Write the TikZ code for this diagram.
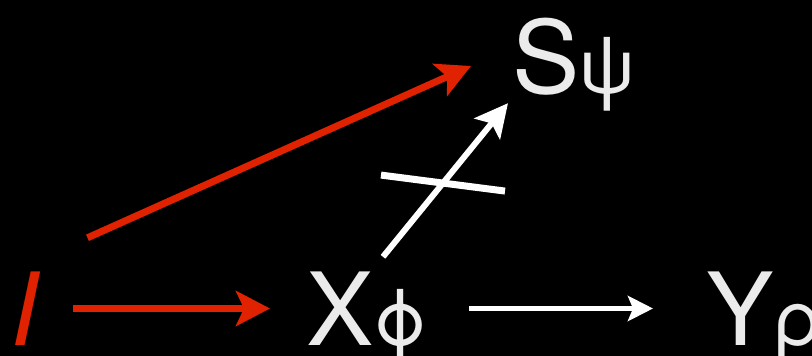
\documentclass[tikz,border=0pt]{standalone}
\usepackage{fontspec}
\setmainfont{TeX Gyre Heros}
\usetikzlibrary{arrows.meta}
\definecolor{arrred}{RGB}{224,34,0}
\definecolor{txtgray}{RGB}{235,235,235}
\newcommand{\bigfs}{\fontsize{101}{101}\selectfont}
\newcommand{\gk}{\fontsize{77}{77}\selectfont}
\tikzset{
  lbl/.style={inner sep=0pt, anchor=base west, text height=73pt, text depth=0pt, font=\bigfs, text=txtgray},
  redarrow/.style={draw=arrred, line width=7pt, -{Stealth[length=34pt, width=35pt, inset=8pt]}},
  whitearrow/.style={draw=white, line width=6pt, -{Stealth[length=33pt, width=33pt, inset=7pt]}},
  thinarrow/.style={draw=white, line width=5pt, -{Stealth[length=25pt, width=25pt, inset=5pt]}},
  crossbar/.style={draw=white, line width=7pt}
}
\begin{document}
\begin{tikzpicture}[x=1pt,y=-1pt]
\fill[black] (0,0) rectangle (812,356);
\useasboundingbox (0,0) rectangle (812,356);
\node[lbl, text=arrred] (I) at (10,345) {\itshape I};
\node[lbl] (X) at (306,345) {X\gk ϕ};
\node[lbl] (Y) at (706,345) {Y\gk ρ};
\node[lbl] (S) at (512,93) {S\gk ψ};
\draw[redarrow] ([xshift=35pt]I.east) -- ([xshift=-36pt]X.west);
\draw[thinarrow] ([xshift=163pt]X.west) -- ([xshift=-53pt]Y.west);
\draw[redarrow] ([shift={(49,-34)}]I.north east) -- ([shift={(-41,9.5)}]S.west);
\draw[whitearrow] ([shift={(77,-15)}]X.north west) -- node[pos=0.48, coordinate] (cut) {} ([shift={(-4,10)}]S.south west);
\draw[crossbar] ([shift={(-62,-8)}]cut) -- ([shift={(62,8)}]cut);
\end{tikzpicture}
\end{document}
